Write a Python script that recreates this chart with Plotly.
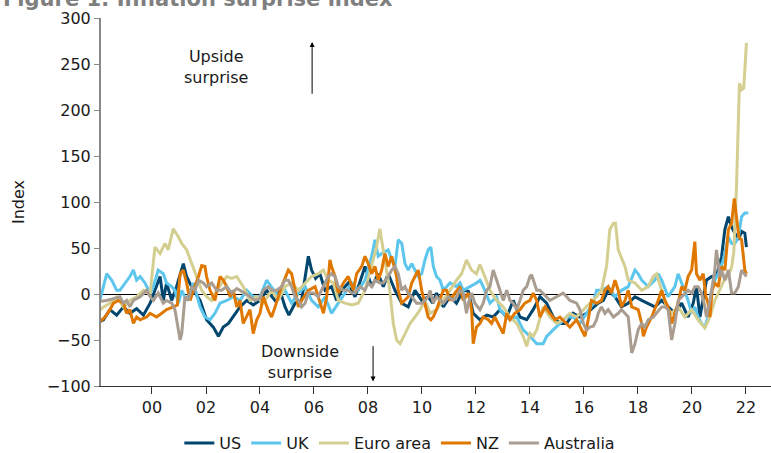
import pandas as pd
import plotly.graph_objects as go

# ---- data (decimal years, index values) ----
us_t = [1998.07, 1998.20, 1998.44, 1998.69, 1998.94, 1999.18, 1999.43, 1999.68, 1999.93, 2000.11,
        2000.30, 2000.42, 2000.54, 2000.73, 2000.91, 2001.16, 2001.28, 2001.53, 2001.78, 2002.02,
        2002.27, 2002.46, 2002.64, 2002.83, 2003.01, 2003.26, 2003.51, 2003.75, 2004.00, 2004.25,
        2004.56, 2004.74, 2004.93, 2005.07, 2005.30, 2005.54, 2005.79, 2005.91, 2006.06, 2006.22,
        2006.41, 2006.65, 2006.84, 2007.03, 2007.27, 2007.52, 2007.77, 2007.89, 2008.14, 2008.38,
        2008.57, 2008.75, 2009.00, 2009.25, 2009.49, 2009.74, 2009.99, 2010.23, 2010.40, 2010.54,
        2010.79, 2011.04, 2011.28, 2011.53, 2011.72, 2011.90, 2012.15, 2012.40, 2012.64, 2012.89,
        2013.14, 2013.38, 2013.63, 2013.88, 2014.12, 2014.37, 2014.62, 2014.86, 2015.11, 2015.36,
        2015.60, 2015.85, 2016.10, 2016.35, 2016.53, 2016.72, 2016.90, 2017.15, 2017.39, 2017.64,
        2017.89, 2018.14, 2018.38, 2018.63, 2018.88, 2019.12, 2019.37, 2019.62, 2019.86, 2020.05,
        2020.17, 2020.30, 2020.42, 2020.54, 2020.73, 2020.91, 2021.10, 2021.22, 2021.35, 2021.47,
        2021.59, 2021.72, 2021.84, 2021.96, 2022.02]
us_v = [-30, -28, -17, -23, -14, -21, -16, -23, -10, 4,
        19, -7, 12, -7, 8, 33, 19, 4, -7, -28,
        -36, -46, -36, -32, -25, -14, -7, -12, -7, 4,
        -7, 4, -14, -23, -10, -7, 41, 26, 17, 22,
        4, 8, -7, 4, 12, -3, 19, 30, 8, 22,
        8, 22, 4, -10, -14, 4, -7, -3, -10, 1,
        -14, -3, -10, 4, 3, -21, -28, -23, -25, -17,
        -25, -7, -25, -28, -17, -3, -10, -25, -32, -32,
        -21, -25, -21, -14, -10, -7, 4, -3, -14, -10,
        -3, -7, -10, -14, -7, -14, -21, -10, -25, -10,
        8, -25, -7, 15, 19, 19, 41, 70, 84, 73,
        66, 59, 68, 66, 51]

uk_t = [1998.07, 1998.32, 1998.51, 1998.69, 1998.81, 1999.00, 1999.18, 1999.31, 1999.43, 1999.56,
        1999.74, 1999.93, 2000.05, 2000.23, 2000.42, 2000.54, 2000.73, 2000.85, 2000.98, 2001.10,
        2001.28, 2001.53, 2001.78, 2001.96, 2002.15, 2002.33, 2002.52, 2002.77, 2003.01, 2003.26,
        2003.51, 2003.75, 2004.00, 2004.25, 2004.43, 2004.68, 2004.93, 2005.17, 2005.42, 2005.67,
        2005.91, 2006.16, 2006.41, 2006.65, 2006.90, 2007.15, 2007.40, 2007.64, 2007.89, 2008.14,
        2008.26, 2008.38, 2008.51, 2008.75, 2008.88, 2009.00, 2009.12, 2009.25, 2009.37, 2009.49,
        2009.62, 2009.86, 2009.99, 2010.11, 2010.23, 2010.33, 2010.42, 2010.54, 2010.67, 2010.79,
        2011.04, 2011.28, 2011.41, 2011.53, 2011.78, 2012.02, 2012.15, 2012.27, 2012.52, 2012.77,
        2012.89, 2013.01, 2013.26, 2013.51, 2013.75, 2014.00, 2014.25, 2014.49, 2014.62, 2014.86,
        2015.11, 2015.36, 2015.60, 2015.85, 2016.10, 2016.35, 2016.47, 2016.65, 2016.90, 2017.15,
        2017.39, 2017.64, 2017.89, 2018.01, 2018.14, 2018.38, 2018.63, 2018.75, 2018.88, 2019.12,
        2019.37, 2019.49, 2019.62, 2019.86, 2019.99, 2020.11, 2020.23, 2020.36, 2020.48, 2020.60,
        2020.73, 2020.85, 2020.98, 2021.16, 2021.35, 2021.47, 2021.59, 2021.72, 2021.84, 2021.96,
        2022.09]
uk_v = [-7, 22, 15, 4, 4, 12, 19, 26, 15, 19,
        12, 1, 8, 26, 22, 12, 8, 4, -10, 4,
        -7, 12, -14, -25, -28, -21, -10, -7, -3, -7,
        4, -3, -3, 15, 8, -3, 4, -10, 1, 8,
        -7, -14, -3, -21, -10, 1, 12, 4, 15, 41,
        59, 41, 44, 48, 37, 30, 59, 55, 33, 26,
        33, 19, 22, 37, 48, 51, 30, 19, 15, 4,
        12, 8, 12, 4, 8, 12, 15, 8, -10, -3,
        -17, -21, -28, -25, -39, -46, -54, -54, -46, -39,
        -32, -25, -25, -32, -21, -10, 4, 4, 8, -3,
        4, 8, 26, 22, 15, 8, 15, 22, 15, -3,
        8, 22, 12, -7, -21, -14, -25, -32, -36, -25,
        4, 15, 22, 37, 62, 55, 55, 62, 84, 88,
        88]

euro_t = [1998.07, 1998.20, 1998.44, 1998.69, 1998.94, 1999.18, 1999.43, 1999.68, 1999.93, 2000.05,
          2000.11, 2000.30, 2000.48, 2000.60, 2000.79, 2000.98, 2001.10, 2001.28, 2001.47, 2001.65,
          2001.84, 2002.02, 2002.21, 2002.39, 2002.58, 2002.77, 2002.95, 2003.14, 2003.38, 2003.63,
          2003.88, 2004.12, 2004.43, 2004.68, 2004.93, 2005.17, 2005.42, 2005.67, 2005.91, 2006.16,
          2006.35, 2006.53, 2006.72, 2006.90, 2007.15, 2007.40, 2007.64, 2007.89, 2008.14, 2008.32,
          2008.44, 2008.57, 2008.69, 2008.81, 2008.94, 2009.06, 2009.19, 2009.37, 2009.56, 2009.74,
          2009.93, 2010.11, 2010.30, 2010.54, 2010.79, 2011.04, 2011.28, 2011.47, 2011.65, 2011.84,
          2012.02, 2012.15, 2012.33, 2012.52, 2012.77, 2013.01, 2013.26, 2013.51, 2013.75, 2013.88,
          2014.00, 2014.12, 2014.25, 2014.49, 2014.74, 2014.99, 2015.23, 2015.48, 2015.73, 2015.98,
          2016.22, 2016.47, 2016.65, 2016.84, 2016.96, 2017.09, 2017.17, 2017.27, 2017.52, 2017.64,
          2017.89, 2018.14, 2018.38, 2018.57, 2018.69, 2018.88, 2019.06, 2019.25, 2019.49, 2019.74,
          2019.99, 2020.23, 2020.48, 2020.67, 2020.85, 2021.04, 2021.20, 2021.35, 2021.47, 2021.55,
          2021.65, 2021.76, 2021.84, 2021.92, 2022.02]
euro_v = [-18, -14, -10, -3, -14, -7, -3, 4, 1, 30,
          51, 44, 55, 48, 71, 62, 55, 48, 33, 19,
          4, -3, -7, 4, 12, 19, 17, 19, 8, -7,
          -3, -10, 4, -7, 8, 12, 4, 12, 19, 22,
          26, 15, 12, -7, -10, -12, -10, 4, 33, 51,
          71, 48, 30, 4, -32, -50, -54, -43, -32, -25,
          -17, -7, -21, -17, -7, 4, 15, 22, 37, 26,
          22, 32, 19, 4, -7, -14, -25, -32, -46, -57,
          -43, -46, -39, -14, -25, -32, -28, -21, -25, -17,
          -10, -3, 4, 30, 70, 77, 77, 48, 30, 15,
          12, 4, 8, 19, 22, 4, -14, -21, -14, -25,
          -17, -28, -37, -25, -7, 5, 15, 20, 29, 45,
          116, 229, 222, 224, 273]

nz_t = [1998.07, 1998.26, 1998.44, 1998.57, 1998.75, 1998.94, 1999.06, 1999.18, 1999.31, 1999.43,
        1999.56, 1999.80, 1999.93, 2000.17, 2000.36, 2000.54, 2000.79, 2000.94, 2001.04, 2001.16,
        2001.28, 2001.41, 2001.53, 2001.72, 2001.84, 2001.96, 2002.02, 2002.15, 2002.33, 2002.52,
        2002.64, 2002.77, 2002.89, 2003.01, 2003.14, 2003.26, 2003.38, 2003.51, 2003.63, 2003.75,
        2003.88, 2004.00, 2004.12, 2004.31, 2004.43, 2004.56, 2004.80, 2005.05, 2005.17, 2005.30,
        2005.42, 2005.54, 2005.79, 2006.04, 2006.16, 2006.35, 2006.47, 2006.59, 2006.65, 2006.78,
        2006.90, 2007.09, 2007.27, 2007.46, 2007.58, 2007.77, 2007.89, 2008.01, 2008.14, 2008.26,
        2008.38, 2008.51, 2008.63, 2008.75, 2008.88, 2009.06, 2009.12, 2009.25, 2009.49, 2009.62,
        2009.74, 2009.86, 2009.99, 2010.11, 2010.23, 2010.33, 2010.42, 2010.54, 2010.67, 2010.79,
        2010.91, 2011.04, 2011.22, 2011.41, 2011.53, 2011.72, 2011.84, 2011.90, 2012.02, 2012.15,
        2012.27, 2012.46, 2012.58, 2012.70, 2012.89, 2013.01, 2013.14, 2013.26, 2013.44, 2013.63,
        2013.81, 2014.00, 2014.12, 2014.25, 2014.37, 2014.56, 2014.74, 2014.93, 2015.11, 2015.36,
        2015.48, 2015.73, 2015.91, 2016.04, 2016.16, 2016.28, 2016.47, 2016.65, 2016.78, 2016.90,
        2017.02, 2017.15, 2017.27, 2017.39, 2017.52, 2017.64, 2017.77, 2018.01, 2018.14, 2018.20,
        2018.32, 2018.51, 2018.75, 2018.88, 2019.00, 2019.12, 2019.25, 2019.37, 2019.49, 2019.62,
        2019.74, 2019.86, 2019.99, 2020.11, 2020.17, 2020.30, 2020.42, 2020.52, 2020.60, 2020.67,
        2020.75, 2020.85, 2020.98, 2021.10, 2021.22, 2021.35, 2021.47, 2021.57, 2021.65, 2021.74,
        2021.84, 2021.90, 2021.96, 2022.02]
nz_v = [-30, -25, -17, -10, -7, -10, -21, -17, -32, -25,
        -28, -25, -21, -25, -21, -17, -14, -12, 22, 26,
        12, -7, 4, 19, 31, 30, 19, 4, -7, 19,
        15, 8, -3, 4, -14, -7, -32, -25, -17, -43,
        -28, -21, -3, -18, -25, -14, 8, 26, 22, 4,
        -14, -7, 4, 8, -3, -21, -3, 37, 30, 19,
        1, 12, 19, 4, 22, 30, 41, 33, 22, 30,
        15, 26, 44, 30, 41, 19, 4, -10, -3, 12,
        19, 26, 4, -10, -25, -28, -25, -17, -7, 4,
        4, -7, 1, 8, -7, 1, -17, -54, -36, -32,
        -25, -28, -32, -25, -36, -43, -21, -28, -21, -17,
        -10, -7, 1, -7, -25, -14, -21, -28, -25, -32,
        -36, -28, -39, -46, -28, -7, -10, -7, 4, 8,
        1, 15, 4, -14, -7, 4, -14, -17, -32, -46,
        -36, -25, -7, 4, -7, -14, -32, -21, -10, 8,
        4, 19, 26, 57, 22, 15, 22, -3, -10, -25,
        4, 12, 8, 30, 26, 70, 77, 104, 84, 62,
        59, 41, 26, 22]

aus_t = [1998.07, 1998.32, 1998.57, 1998.81, 1998.94, 1999.06, 1999.18, 1999.31, 1999.56, 1999.80,
         1999.93, 2000.05, 2000.23, 2000.42, 2000.54, 2000.73, 2000.85, 2000.91, 2000.98, 2001.04,
         2001.10, 2001.16, 2001.22, 2001.35, 2001.47, 2001.59, 2001.72, 2001.90, 2002.02, 2002.21,
         2002.39, 2002.58, 2002.77, 2002.95, 2003.14, 2003.26, 2003.44, 2003.63, 2003.81, 2004.00,
         2004.12, 2004.31, 2004.43, 2004.62, 2004.80, 2004.93, 2005.05, 2005.17, 2005.30, 2005.42,
         2005.54, 2005.67, 2005.79, 2005.98, 2006.16, 2006.28, 2006.41, 2006.53, 2006.65, 2006.78,
         2006.90, 2007.09, 2007.27, 2007.40, 2007.52, 2007.70, 2007.89, 2008.01, 2008.14, 2008.26,
         2008.44, 2008.57, 2008.75, 2008.88, 2009.00, 2009.12, 2009.25, 2009.37, 2009.49, 2009.62,
         2009.80, 2009.99, 2010.11, 2010.23, 2010.30, 2010.42, 2010.54, 2010.67, 2010.79, 2010.98,
         2011.16, 2011.28, 2011.41, 2011.53, 2011.65, 2011.72, 2011.84, 2011.96, 2012.15, 2012.27,
         2012.40, 2012.52, 2012.64, 2012.77, 2012.89, 2013.01, 2013.14, 2013.26, 2013.38, 2013.51,
         2013.63, 2013.75, 2013.88, 2014.00, 2014.06, 2014.12, 2014.25, 2014.37, 2014.62, 2014.74,
         2014.99, 2015.23, 2015.36, 2015.48, 2015.73, 2015.85, 2015.98, 2016.10, 2016.22, 2016.35,
         2016.47, 2016.53, 2016.65, 2016.78, 2016.90, 2017.09, 2017.27, 2017.39, 2017.52, 2017.64,
         2017.77, 2017.89, 2018.01, 2018.14, 2018.26, 2018.38, 2018.57, 2018.69, 2018.88, 2019.00,
         2019.12, 2019.25, 2019.37, 2019.49, 2019.62, 2019.74, 2019.86, 2019.99, 2020.11, 2020.23,
         2020.36, 2020.48, 2020.54, 2020.67, 2020.73, 2020.85, 2020.91, 2021.04, 2021.10, 2021.22,
         2021.35, 2021.47, 2021.59, 2021.72, 2021.84, 2021.96, 2022.02]
aus_v = [-8, -7, -5, -3, -10, -7, -14, -7, -3, 4,
         -3, -7, 1, -10, -7, -10, -17, -28, -39, -50,
         -43, -25, -3, -7, 8, 4, 15, 12, 8, 12,
         4, 4, 8, 1, 6, 4, 1, -3, -7, -5,
         4, 8, 4, 4, 8, 15, 15, 8, -3, -7,
         -14, -10, 1, 1, -3, 4, 12, 19, 22, 19,
         8, 4, 4, 1, 1, 8, 4, 12, 8, 15,
         12, 12, 19, 26, 30, 22, 4, 8, 1, -3,
         -10, -10, -7, -3, 4, -10, -3, -7, -10, -3,
         -7, -3, 4, 1, -21, -10, 1, -10, -17, -10,
         4, 8, 26, 15, 4, -7, 4, -7, -10, -17,
         -7, 4, 8, 19, 21, 15, 4, 4, -3, -7,
         -3, 1, -3, -7, -10, -17, -32, -39, -36, -35,
         -28, -21, -14, -21, -17, -25, -21, -17, -21, -25,
         -64, -54, -39, -32, -36, -28, -25, -21, -14, -14,
         -17, -50, -32, -7, -3, 1, 4, 1, 8, 8,
         1, -14, -25, -7, 4, 26, 48, 19, 26, 15,
         26, 1, 1, 8, 26, 22, 19]

series_names = ["US", "UK", "Euro area", "NZ", "Australia"]
series_t = [us_t, uk_t, euro_t, nz_t, aus_t]
series_v = [us_v, uk_v, euro_v, nz_v, aus_v]
series_colors = ["#00466e", "#5cc6ec", "#d4cf91", "#e07800", "#a99c90"]

tick_years = list(range(2000, 2023, 2))
tick_labels = [f"{y % 100:02d}" for y in tick_years]


def to_date(t):
    y = int(t)
    return pd.Timestamp(year=y, month=1, day=1) + pd.Timedelta(days=(t - y) * 365.25)


FONT = "DejaVu Sans, Verdana, sans-serif"

fig = go.Figure()
for name, ts, vs, col in zip(series_names, series_t, series_v, series_colors):
    fig.add_trace(go.Scatter(
        x=[to_date(t) for t in ts], y=vs, mode="lines", name=name,
        line=dict(color=col, width=3),
    ))

fig.update_layout(
    width=771, height=453,
    margin=dict(l=101, r=0, t=18, b=67, autoexpand=False),
    paper_bgcolor="white", plot_bgcolor="white",
    font=dict(family=FONT, size=16, color="#1a1a1a"),
    showlegend=True,
    legend=dict(orientation="h", x=0.446, xanchor="center",
                yref="container", y=0.022, yanchor="middle",
                font=dict(size=16), itemwidth=30, tracegroupgap=0,
                bgcolor="rgba(0,0,0,0)"),
    xaxis=dict(
        type="date", automargin=False,
        range=[to_date(1998.11), to_date(2022.93)],
        tickvals=[pd.Timestamp(year=y, month=1, day=1) for y in tick_years],
        ticktext=tick_labels,
        ticks="outside", ticklen=7, tickcolor="#333333", tickwidth=1,
        showline=True, linecolor="#333333", linewidth=1,
        showgrid=False, zeroline=False,
        tickfont=dict(size=16),
    ),
    yaxis=dict(
        range=[-100, 300], automargin=False,
        tickvals=[-100, -50, 0, 50, 100, 150, 200, 250, 300],
        ticks="outside", ticklen=5, tickcolor="#888888", tickwidth=1,
        showline=True, linecolor="#888888", linewidth=2,
        showgrid=False,
        zeroline=True, zerolinecolor="#000000", zerolinewidth=1,
        title=dict(text="Index", standoff=18, font=dict(size=16)),
        tickfont=dict(size=16),
    ),
)

# title (partly cut off at the top, as in the original)
fig.add_annotation(
    text="<b>Figure 1: Inflation surprise index</b>", xref="paper", yref="paper",
    x=0.439, y=1.052, xanchor="right", yanchor="middle", showarrow=False,
    font=dict(family=FONT, size=21, color="#7f7f7f"),
)
# upside / downside labels
fig.add_annotation(text="Upside<br>surprise", x=to_date(2002.37), y=247, xref="x", yref="y",
                   showarrow=False, font=dict(size=16), align="center")
fig.add_annotation(text="Downside<br>surprise", x=to_date(2005.48), y=-74, xref="x", yref="y",
                   showarrow=False, font=dict(size=16), align="center")
fig.add_annotation(x=to_date(2005.93), y=274, ax=to_date(2005.93), ay=216,
                   xref="x", yref="y", axref="x", ayref="y", text="",
                   showarrow=True, arrowhead=2, arrowsize=1, arrowwidth=1, arrowcolor="#000")
fig.add_annotation(x=to_date(2008.19), y=-95, ax=to_date(2008.19), ay=-55,
                   xref="x", yref="y", axref="x", ayref="y", text="",
                   showarrow=True, arrowhead=2, arrowsize=1, arrowwidth=1, arrowcolor="#000")

fig.write_html("out.html", config={"displayModeBar": False},
               post_script="document.body.style.margin='0';document.body.style.overflow='hidden';")
